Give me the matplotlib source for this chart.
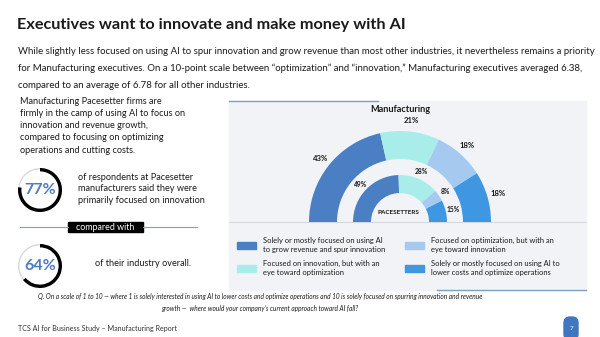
import matplotlib
matplotlib.use("Agg")
import matplotlib.pyplot as plt
from matplotlib.patches import Rectangle, FancyBboxPatch
import numpy as np

plt.rcParams['font.family'] = ['Lato', 'DejaVu Sans']

# data
segments = ["Solely or mostly focused on using AI\nto grow revenue and spur innovation",
            "Focused on innovation, but with an\neye toward optimization",
            "Focused on optimization, but with an\neye toward innovation",
            "Solely or mostly focused on using AI to\nlower costs and optimize operations"]
manufacturing = [43, 21, 18, 18]
pacesetters = [49, 28, 8, 15]
colors = ["#4a7fc3", "#a8ede9", "#a6caef", "#3f97e1"]
pacesetter_share = 77
industry_share = 64

title = "Executives want to innovate and make money with AI"
subtitle = ["While slightly less focused on using AI to spur innovation and grow revenue than most other industries, it nevertheless remains a priority",
            "for Manufacturing executives. On a 10-point scale between \u201coptimization\u201d and \u201cinnovation,\u201d Manufacturing executives averaged 6.38,",
            "compared to an average of 6.78 for all other industries."]
left_text = ["Manufacturing Pacesetter firms are",
             "firmly in the camp of using AI to focus on",
             "innovation and revenue growth,",
             "compared to focusing on optimizing",
             "operations and cutting costs."]
stat1_text = ["of respondents at Pacesetter",
              "manufacturers said they were",
              "primarily focused on innovation"]
stat2_text = "of their industry overall."
footnote = ["Q. On a scale of 1 to 10 \u2014 where 1 is solely interested in using AI to lower costs and optimize operations and 10 is solely focused on spurring innovation and revenue",
            "growth \u2014  where would your company\u2019s current approach toward AI fall?"]
footer = "TCS AI for Business Study \u2013 Manufacturing Report"
page = "7"

W, H = 600, 337
fig = plt.figure(figsize=(6, 3.37), dpi=100)
ax = fig.add_axes([0, 0, 1, 1])
ax.set_xlim(0, W)
ax.set_ylim(H, 0)
ax.axis('off')

txt = "#1a1a1a"
ax.text(17, 25, title, fontsize=11.7, fontweight='bold', color=txt, va='center')
for i, line in enumerate(subtitle):
    ax.text(18, 51 + i * 17.5, line, fontsize=6.9, color=txt, va='center')
for i, line in enumerate(left_text):
    ax.text(20, 101 + i * 12.3, line, fontsize=6.6, color=txt, va='center')
for i, line in enumerate(stat1_text):
    ax.text(78, 177 + i * 11.8, line, fontsize=6.6, color=txt, va='center')
ax.text(95, 264, stat2_text, fontsize=6.6, color=txt, va='center')

# compared with divider
ax.plot([20, 68], [227, 227], color="#7f9fc6", lw=0.8)
ax.plot([143, 197], [227, 227], color="#7f9fc6", lw=0.8)
ax.add_patch(Rectangle((68, 222), 75, 10, color="black"))
ax.text(105.5, 227, "compared with", fontsize=6.4, color="white", va='center', ha='center')

# chart panel
ax.add_patch(Rectangle((229, 101), 357, 189, color="#f1f3f6", zorder=0))
ax.plot([229, 378], [101, 101], color="#7f9fc6", lw=1)
ax.plot([437, 586], [289.5, 289.5], color="#7f9fc6", lw=1)
ax.plot([229, 586], [222, 222], color="#d6dae0", lw=0.8)
ax.text(400, 109, "Manufacturing", fontsize=6.6, fontweight='bold', color=txt, ha='center', va='center')


def half_donut(axd, values, radius, width, labeldist, fs):
    vals = list(values) + [sum(values)]
    cols = colors + ["none"]
    wedges, texts = axd.pie(vals, colors=cols, startangle=180, counterclock=False,
                            radius=radius, labels=[f"{v}%" for v in values] + [""],
                            labeldistance=labeldist,
                            wedgeprops=dict(width=width, linewidth=0),
                            textprops=dict(fontsize=fs, fontweight='bold', color=txt))
    for t in texts:
        t.set_ha('center')
        t.set_va('center')


# donut axes: 200x200 px centred on (400, 222)
cx, cy = 400, 222
axd = fig.add_axes([(cx - 100) / W, (H - cy - 100) / H, 200 / W, 200 / H])
half_donut(axd, manufacturing, 0.91, 0.28, 1.12, 5.6)
half_donut(axd, pacesetters, 0.47, 0.18, 1.16, 4.8)
axd.set_xlim(-1, 1)
axd.set_ylim(-1, 1)
axd.axis('off')
ax.text(cx - 2, 213, "PACESETTERS", fontsize=4.6, fontweight='bold', color=txt, ha='center', va='center')

# legend
leg_pos = [(237, 245), (237, 268), (405, 245), (405, 268)]
for (lx, ly), lab, c in zip(leg_pos, segments, colors):
    ax.add_patch(Rectangle((lx, ly - 3.5), 19, 7, color=c))
    ax.text(lx + 26, ly, lab, fontsize=5.4, color=txt, va='center', linespacing=1.25)


# ring gauges
def ring(center, share):
    x0, y0 = center
    axr = fig.add_axes([(x0 - 25) / W, (H - y0 - 25) / H, 50 / W, 50 / H])
    axr.pie([100], colors=["#d9d9d9"], radius=1.1, wedgeprops=dict(width=0.07, linewidth=0))
    axr.pie([share, 100 - share], colors=["black", "none"], startangle=90, counterclock=False,
            radius=1.1, wedgeprops=dict(width=0.17, linewidth=0))
    axr.set_xlim(-1.25, 1.25)
    axr.set_ylim(-1.25, 1.25)
    axr.axis('off')
    ax.text(x0, y0, f"{share}%", fontsize=11.5, fontweight='bold', color="#4d7cc3", ha='center', va='center')


ring((40, 190), pacesetter_share)
ring((40, 266), industry_share)

# footnote and footer
for i, line in enumerate(footnote):
    ax.text(260, 297 + i * 11, line, fontsize=4.7, style='italic', color=txt, ha='center', va='center')
ax.text(18, 328, footer, fontsize=5.1, color="#333333", va='center')
ax.add_patch(FancyBboxPatch((564, 317), 14, 23, boxstyle="round,pad=0,rounding_size=6", color="#3f76bf"))
ax.text(571, 328, page, fontsize=4.5, color="white", ha='center', va='center')

fig.savefig("out.png", dpi=100)
